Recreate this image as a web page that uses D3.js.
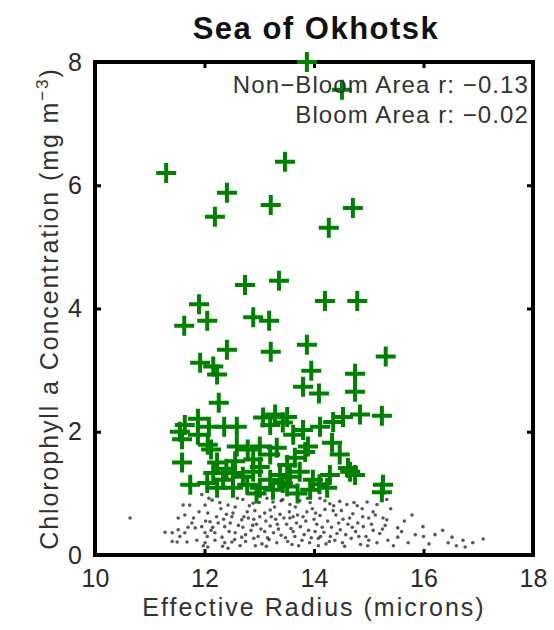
<!DOCTYPE html>
<html><head><meta charset="utf-8">
<script src="https://cdn.jsdelivr.net/npm/d3@7"></script>
<style>body{margin:0;background:#fff}svg{display:block}</style>
</head><body>
<script>
const title = "Sea of Okhotsk";
const xLabel = "Effective Radius (microns)";
const yLabelMain = "Chlorophyll a Concentration (mg m";
const yLabelSup = "−3";
const xTicks = [10, 12, 14, 16, 18];
const yTicks = [0, 2, 4, 6, 8];
const legendLines = ["Non−Bloom Area r: −0.13", "Bloom Area r: −0.02"];

// Bloom area points (green plus)
const bloomX = [13.87,14.51,11.30,13.47,12.41,12.19,13.21,14.71,14.27,12.74,13.36,14.20,14.79,11.90,11.63,12.05,12.89,13.18,
 12.41,13.21,13.87,15.31,11.92,12.16,12.23,13.95,14.75,13.80,14.09,14.75,12.26,15.24,
 11.64,11.88,12.08,12.36,12.59,13.07,13.29,13.20,13.43,13.51,13.80,14.11,14.35,14.53,14.84,
 11.55,11.59,11.88,12.06,12.12,12.59,12.79,13.01,13.32,13.62,13.89,14.33,13.84,
 11.59,12.23,12.56,12.89,13.20,13.65,14.47,13.01,13.51,14.62,
 11.74,12.05,12.16,12.34,12.52,12.70,12.89,13.20,13.38,12.23,12.52,12.78,13.01,13.25,13.43,13.56,13.51,13.74,13.98,13.93,14.24,14.29,14.66,14.75,15.26,15.24,12.40,12.95,13.70,14.10];
const bloomY = [8.00,7.55,6.20,6.38,5.88,5.49,5.68,5.63,5.31,4.38,4.45,4.12,4.12,4.07,3.72,3.80,3.86,3.80,
 3.33,3.30,3.41,3.22,3.12,3.06,2.93,2.99,2.94,2.73,2.62,2.65,2.47,2.26,
 2.11,2.21,2.08,2.08,2.08,2.23,2.28,2.11,2.15,2.24,2.03,2.08,2.16,2.24,2.28,
 2.00,1.88,1.95,1.79,1.71,1.76,1.71,1.76,1.74,1.95,1.76,1.82,1.67,
 1.50,1.50,1.52,1.55,1.63,1.58,1.63,1.43,1.46,1.41,
 1.14,1.17,1.33,1.22,1.33,1.27,1.35,1.22,1.30,1.09,1.09,1.14,1.09,1.06,1.17,1.27,1.11,1.35,1.22,1.06,1.09,1.30,1.35,1.30,1.14,1.02,1.40,1.00,1.00,1.15];

// Non-bloom area points (small black dots)
const nonBloomX = [10.64,11.28,11.41,11.41,11.50,11.52,11.52,11.61,11.64,11.64,11.68,11.73,11.77,11.83,11.86,11.95,11.95,12.01,12.01,12.01,12.06,12.06,12.10,12.14,12.19,12.19,12.25,12.32,12.37,12.37,12.43,12.43,12.50,12.50,12.56,12.56,12.68,12.68,
 12.70,12.89,13.14,13.25,13.43,13.56,13.74,13.93,14.11,14.29,14.47,14.79,14.97,15.15,15.33,
 12.78,13.01,13.20,13.38,13.56,13.87,14.11,14.35,14.53,14.71,14.89,15.08,15.26,12.90,13.10,13.30,13.70,14.00,14.20,
 12.70,12.85,12.95,13.10,13.20,13.35,13.50,13.62,13.75,13.90,14.05,14.18,14.32,14.48,14.62,14.76,14.90,15.08,15.30,15.53,
 12.75,12.90,13.05,13.18,13.32,13.48,13.60,13.78,13.92,14.08,14.22,14.38,14.52,14.68,14.85,15.00,15.15,15.35,
 15.33,15.53,15.72,15.79,15.99,16.21,16.45,16.52,16.72,16.76,17.09,16.00,15.60,
 12.05,12.22,12.30,12.45,12.62,12.80,12.98,13.12,13.28,13.40,13.55,13.68,13.82,13.97,14.12,14.25,14.40,14.58,14.80,15.00,
 12.15,12.35,12.55,12.75,12.92,13.15,13.45,13.65,13.85,14.02,14.30,14.45,14.70,14.95,15.20,
 11.55,11.70,11.80,11.90,11.98,12.08,12.12,12.28,12.40,12.47,12.60,12.65,12.72,12.82,12.88,13.00,13.03,13.13,13.22,13.33,
 13.40,13.52,13.58,13.66,13.72,13.80,13.88,13.95,14.03,14.15,14.20,14.28,14.36,14.42,14.50,14.56,14.65,14.73,14.82,14.88,
 14.98,15.05,15.12,15.25,15.40,15.45,15.65,15.85,16.10,16.35,16.60,16.90,12.02,12.33,12.52,12.93,13.26,13.62,14.08,14.60];
const nonBloomY = [0.60,0.37,0.36,0.22,0.21,0.41,0.60,0.81,0.65,0.36,0.21,0.81,0.52,0.44,0.24,0.46,0.98,0.81,0.36,0.20,0.68,0.13,0.54,0.89,0.36,0.24,0.52,0.29,0.46,0.20,0.81,0.11,0.62,0.21,0.78,0.36,0.57,0.29,
 0.90,0.84,0.92,0.86,0.90,0.82,0.88,0.85,0.92,0.83,0.87,0.80,0.86,0.82,0.90,
 0.70,0.62,0.73,0.66,0.60,0.70,0.64,0.72,0.58,0.67,0.62,0.70,0.60,0.58,0.68,0.58,0.65,0.58,0.74,
 0.45,0.40,0.50,0.38,0.47,0.42,0.50,0.38,0.46,0.40,0.50,0.37,0.45,0.41,0.50,0.38,0.46,0.40,0.48,0.44,
 0.22,0.27,0.18,0.25,0.20,0.28,0.17,0.24,0.20,0.27,0.18,0.24,0.20,0.27,0.17,0.24,0.20,0.24,
 0.57,0.29,0.20,0.65,0.46,0.33,0.20,0.29,0.24,0.13,0.26,0.30,0.38,
 0.30,0.62,0.75,0.38,0.48,0.60,0.30,0.55,0.78,0.32,0.70,0.52,0.33,0.75,0.30,0.55,0.65,0.33,0.52,0.60,
 0.45,0.58,0.25,0.33,0.72,0.28,0.60,0.30,0.55,0.38,0.30,0.52,0.45,0.30,0.35,
 0.30,0.45,0.60,0.70,0.15,0.92,0.40,0.85,0.66,0.52,0.92,0.15,0.62,0.80,0.48,0.85,0.42,0.14,0.62,0.50,
 0.88,0.22,0.43,0.78,0.15,0.62,0.92,0.28,0.68,0.45,0.88,0.22,0.80,0.35,0.72,0.14,0.60,0.85,0.30,0.75,
 0.15,0.50,0.65,0.42,0.75,0.15,0.55,0.33,0.18,0.40,0.15,0.20,0.55,0.14,0.68,0.15,0.36,0.62,0.15,0.82];

const W = 554, H = 630;
const font = "'Liberation Sans', Arial, sans-serif";
const svg = d3.select("body").append("svg").attr("width", W).attr("height", H)
  .style("font-family", font);

const x = d3.scaleLinear().domain([10, 18]).range([95, 533]);
const y = d3.scaleLinear().domain([0, 8]).range([555, 62]);

// non-bloom dots
svg.append("g").selectAll("circle").data(d3.range(nonBloomX.length)).join("circle")
  .attr("cx", i => x(nonBloomX[i])).attr("cy", i => y(nonBloomY[i]))
  .attr("r", 1.8).attr("fill", "#000").attr("fill-opacity", 0.65);

// axes box with inward ticks
const styleTicks = g => { g.select(".domain").remove(); g.selectAll("line").attr("stroke", "#000").attr("stroke-width", 3); };
const axG = svg.append("g");
axG.append("g").attr("transform", `translate(0,${y(0)})`)
  .call(d3.axisBottom(x).tickValues(xTicks).tickSizeInner(-6).tickSizeOuter(0).tickPadding(14).tickFormat(d3.format("d")))
  .call(styleTicks)
  .call(g => g.selectAll("text").attr("font-size", 25).attr("font-family", font).attr("fill", "#2a2a2a"));
axG.append("g").attr("transform", `translate(0,${y(8)})`)
  .call(d3.axisTop(x).tickValues(xTicks).tickSizeInner(-6).tickSizeOuter(0).tickFormat(""))
  .call(styleTicks);
axG.append("g").attr("transform", `translate(${x(10)},0)`)
  .call(d3.axisLeft(y).tickValues(yTicks).tickSizeInner(-6).tickSizeOuter(0).tickPadding(13).tickFormat(d3.format("d")))
  .call(styleTicks)
  .call(g => g.selectAll("text").attr("font-size", 25).attr("font-family", font).attr("fill", "#2a2a2a"));
axG.append("g").attr("transform", `translate(${x(18)},0)`)
  .call(d3.axisRight(y).tickValues(yTicks).tickSizeInner(-6).tickSizeOuter(0).tickFormat(""))
  .call(styleTicks);
axG.append("rect").attr("x", x(10)).attr("y", y(8)).attr("width", x(18) - x(10)).attr("height", y(0) - y(8))
  .attr("fill", "none").attr("stroke", "#000").attr("stroke-width", 4);

// bloom crosses
svg.append("g").selectAll("path").data(d3.range(bloomX.length)).join("path")
  .attr("transform", i => `translate(${x(bloomX[i])},${y(bloomY[i])})`)
  .attr("d", "M-10,0H10M0,-10V10").attr("stroke", "#007f00").attr("stroke-width", 4).attr("fill", "none");

// legend text
svg.append("g").selectAll("text").data(legendLines).join("text")
  .attr("x", 529).attr("y", (d, i) => 93 + i * 30).attr("text-anchor", "end")
  .attr("font-size", 24).attr("letter-spacing", 1.1).attr("fill", "#333").text(d => d);

// title
svg.append("text").attr("x", 316).attr("y", 39).attr("text-anchor", "middle")
  .attr("font-size", 31).attr("font-weight", "bold").attr("letter-spacing", 1.5).attr("fill", "#111").text(title);

// x label
svg.append("text").attr("x", 314).attr("y", 616).attr("text-anchor", "middle")
  .attr("font-size", 25).attr("letter-spacing", 2).attr("fill", "#333").text(xLabel);

// y label
const yl = svg.append("text").attr("transform", `translate(58,${(y(0) + y(8)) / 2}) rotate(-90)`)
  .attr("text-anchor", "middle").attr("font-size", 25).attr("letter-spacing", 1.9).attr("fill", "#333");
yl.append("tspan").text(yLabelMain);
yl.append("tspan").attr("dy", -10).attr("font-size", 17).text(yLabelSup);
yl.append("tspan").attr("dy", 10).text(")");
</script>
</body></html>
